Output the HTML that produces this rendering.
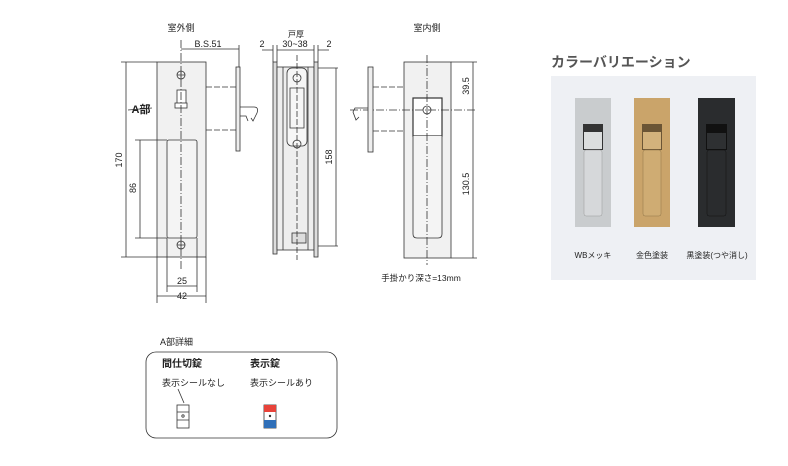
<!DOCTYPE html>
<html><head><meta charset="utf-8"><style>
body{margin:0;background:#fff;}
svg{display:block;font-family:"Liberation Sans","Noto Sans CJK JP",sans-serif;}
</style></head><body>
<svg width="788" height="466" viewBox="0 0 788 466" xmlns="http://www.w3.org/2000/svg">
<g stroke="#333" stroke-width="0.8" fill="none">
<!-- exterior view -->
<rect x="157" y="62" width="49" height="195" fill="#f1f1f1"/>
<rect x="167" y="140" width="30" height="98" rx="2" fill="#f4f4f4"/>
<circle cx="181" cy="75" r="4"/><path d="M177 75h8M181 71v8"/>
<circle cx="181" cy="245" r="4"/><path d="M177 245h8M181 241v8"/>
<rect x="177" y="90" width="9" height="15" fill="#fff"/>
<rect x="175" y="103" width="12" height="5" fill="#fff"/>
<path d="M181 40v230" stroke-dasharray="8,2,1,2"/>
<path d="M152 108l-24 2"/>
<!-- dims -->
<path d="M126 62v195M121 62h36M121 257h36M140 140v98M135 140h32M135 238h32"/>
<path d="M167 238v54M197 238v54M157 257v46M206 257v46M167 286h30M157 296h49"/>
<path d="M181 49h58M239 45v22"/>
<!-- side plate ext -->
<rect x="236" y="67" width="4" height="84" fill="#eee"/>
<path d="M206 87h30M206 130h30" stroke-dasharray="6,2"/>
<path d="M240 107h14q5 0 3 6l-4 8-2-3"/>
<path d="M240 116h6l2 5"/>
<!-- side section -->
<rect x="273" y="62" width="4" height="192" fill="#ddd"/>
<rect x="277" y="67" width="37" height="183" fill="#eee"/>
<rect x="314" y="62" width="4" height="195" fill="#ddd"/>
<path d="M283 67v183M308 67v183"/>
<rect x="287" y="68" width="20" height="78" rx="5" fill="#f6f6f6"/>
<circle cx="297" cy="78" r="4"/><circle cx="297" cy="144" r="4"/>
<path d="M290 88h14v40h-14z"/>
<rect x="292" y="233" width="14" height="10" fill="#ddd"/>
<path d="M297 55v205" stroke-dasharray="6,2"/>
<path d="M318 68h20M318 246h20M336 68v178"/>
<path d="M273 45v17M277 45v17M314 45v17M318 45v17M262 50h11M277 50h37M318 50h11"/>
<!-- interior -->
<rect x="404" y="62" width="47" height="196" fill="#f1f1f1"/>
<rect x="413" y="98" width="29" height="38" fill="#fff" stroke-width="1.2"/>
<path d="M413 136v98q0 4 4 4h21q4 0 4-4v-98" fill="#f4f4f4"/>
<circle cx="427" cy="110" r="4" fill="#fff"/>
<path d="M427 55v210M350 110h125" stroke-dasharray="8,2,1,2"/>
<path d="M451 62h26M451 258h26M473 62v196"/>
<rect x="368" y="67" width="5" height="85" fill="#eee"/>
<path d="M373 87h31M373 131h31" stroke-dasharray="6,2"/>
<path d="M368 108h-13l-2 4 3 8 3-3"/>
<!-- detail box -->
<rect x="146" y="352" width="191" height="86" rx="10"/>
<path d="M178 389l6 14"/>
<rect x="177" y="405" width="12" height="23" fill="#fff"/>
<path d="M177 412h12M177 420h12"/>
<circle cx="183" cy="416" r="1.2"/>
<rect x="264" y="405" width="12" height="23" fill="#fff"/>
</g>
<rect x="264" y="405" width="12" height="7" fill="#e8433a"/>
<rect x="264" y="420" width="12" height="8" fill="#2f6fb8"/>
<circle cx="270" cy="416" r="1.2" fill="#333"/>
<g fill="#222" font-size="9" text-anchor="middle">
<text x="181" y="31">室外側</text>
<text x="208" y="47">B.S.51</text>
<text x="296" y="37" font-size="8">戸厚</text>
<text x="262" y="47">2</text><text x="295" y="47">30~38</text><text x="329" y="47">2</text>
<text x="427" y="31">室内側</text>
<text x="182" y="284">25</text><text x="182" y="299">42</text>
<text x="122" y="160" transform="rotate(-90 122 160)">170</text>
<text x="136" y="188" transform="rotate(-90 136 188)">86</text>
<text x="332" y="157" transform="rotate(-90 332 157)">158</text>
<text x="469" y="86" transform="rotate(-90 469 86)">39.5</text>
<text x="469" y="184" transform="rotate(-90 469 184)">130.5</text>
<text x="421" y="281" font-size="8.5">手掛かり深さ=13mm</text>
<text x="141" y="113" font-size="11" font-weight="bold">A部</text>
</g>
<g fill="#222" font-size="9">
<text x="160" y="345">A部詳細</text>
<text x="162" y="367" font-weight="bold" font-size="10">間仕切錠</text>
<text x="250" y="367" font-weight="bold" font-size="10">表示錠</text>
<text x="162" y="386">表示シールなし</text>
<text x="250" y="386">表示シールあり</text>
</g>
<!-- color panel -->
<text x="551" y="67" font-size="14" fill="#555" font-weight="bold">カラーバリエーション</text>
<rect x="551" y="76" width="205" height="204" fill="#eef0f4"/>
<rect x="575" y="98" width="36" height="129" fill="#c9ccce"/>
<rect x="583" y="124" width="20" height="26" fill="#333"/>
<rect x="584" y="132" width="18" height="17" fill="#dcdede"/>
<rect x="584" y="150" width="18" height="66" rx="2" fill="#d6d8da" stroke="#999" stroke-width="0.5"/>
<rect x="634" y="98" width="36" height="129" fill="#caa46a"/>
<rect x="642" y="124" width="20" height="26" fill="#6b5535"/>
<rect x="643" y="132" width="18" height="17" fill="#d3b27c"/>
<rect x="643" y="150" width="18" height="66" rx="2" fill="#cfac73" stroke="#8f7346" stroke-width="0.5"/>
<rect x="698" y="98" width="37" height="129" fill="#2a2c2e"/>
<rect x="706" y="124" width="21" height="26" fill="#111"/>
<rect x="707" y="133" width="19" height="16" fill="#2e3032"/>
<rect x="707" y="150" width="19" height="66" rx="2" fill="#2a2c2e" stroke="#111" stroke-width="0.5"/>
<g font-size="8" fill="#222" text-anchor="middle">
<text x="593" y="258">WBメッキ</text>
<text x="652" y="258">金色塗装</text>
<text x="717" y="258">黒塗装(つや消し)</text>
</g>
</svg>
</body></html>
